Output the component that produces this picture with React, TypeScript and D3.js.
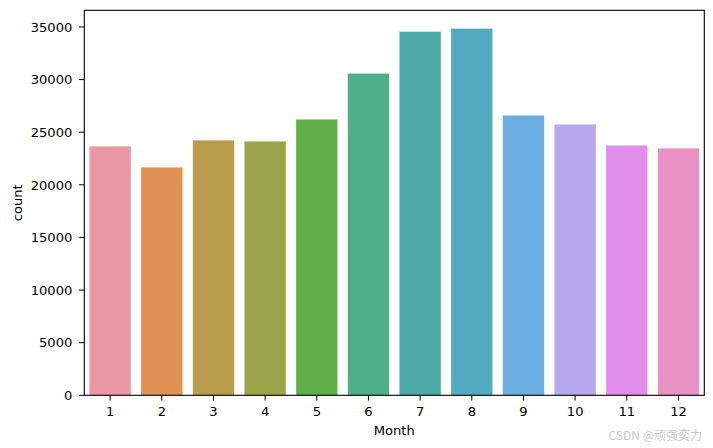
import React from "react";
import * as d3 from "d3";

const months = ["1", "2", "3", "4", "5", "6", "7", "8", "9", "10", "11", "12"];
const counts = [23650, 21650, 24220, 24120, 26210, 30570, 34550, 34840, 26590, 25730, 23740, 23460];
const colors = ["#ea96a3", "#e19153", "#b89c49", "#9aa549", "#60ae4a", "#4eaf89", "#4eaaa6", "#51aabf", "#6daee2", "#b6a8eb", "#e08ee9", "#e891c3"];
const yTicks = [0, 5000, 10000, 15000, 20000, 25000, 30000, 35000];

const W = 713, H = 448;
const left = 84.3, right = 704.3, top = 10.3, bottom = 395.3;
const font = "DejaVu Sans, sans-serif";
const fs = 13.1;

export default function App() {
  const yMax = d3.max(counts)! * 1.05;
  const y = d3.scaleLinear().domain([0, yMax]).range([bottom, top]);
  const x = d3.scaleBand<string>().domain(months).range([left, right]).paddingInner(0.2).paddingOuter(0.1);
  const step = x.step();
  return (
    <svg width={W} height={H} style={{ position: "absolute", left: 0, top: 0 }} fontFamily={font}>
      <rect x={0} y={0} width={W} height={H} fill="#fff" />
      {months.map((m, i) => (
        <rect key={m} x={x(m)!} y={y(counts[i])} width={x.bandwidth()} height={bottom - y(counts[i])} fill={colors[i]} />
      ))}
      <rect x={left} y={top} width={right - left} height={bottom - top} fill="none" stroke="#000" strokeWidth={1.1} />
      {yTicks.map((t) => (
        <g key={t}>
          <line x1={left - 5.3} x2={left} y1={y(t)} y2={y(t)} stroke="#000" strokeWidth={1} />
          <text x={left - 12} y={y(t)} dy="0.36em" textAnchor="end" fontSize={fs} fill="#000">{t}</text>
        </g>
      ))}
      {months.map((m) => {
        const cx = x(m)! + x.bandwidth() / 2;
        return (
          <g key={m}>
            <line x1={cx} x2={cx} y1={bottom} y2={bottom + 5.3} stroke="#000" strokeWidth={1} />
            <text x={cx} y={416} textAnchor="middle" fontSize={fs} fill="#000">{m}</text>
          </g>
        );
      })}
      <text x={(left + right) / 2} y={435} textAnchor="middle" fontSize={fs} fill="#000">Month</text>
      <text transform={`translate(22, ${(top + bottom) / 2}) rotate(-90)`} textAnchor="middle" fontSize={fs} fill="#000">count</text>
      <text x={702} y={440} textAnchor="end" fontSize={12} fill="#c8c8c8" fontFamily="'Noto Sans CJK SC', sans-serif">CSDN @顽强奕力</text>
    </svg>
  );
}
